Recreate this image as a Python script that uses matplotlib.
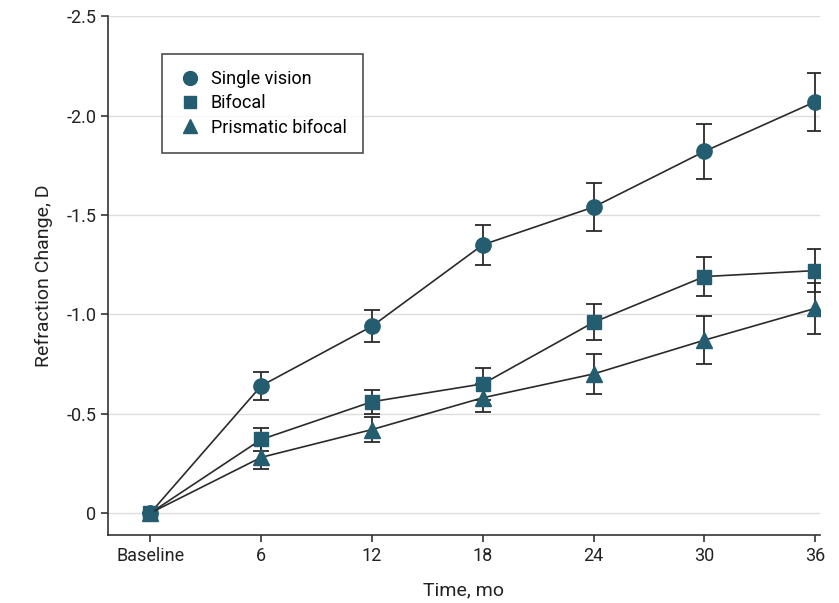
import numpy as np
from matplotlib import pyplot as plt
from matplotlib.lines import Line2D

plt.rcParams["font.family"] = ["Roboto", "DejaVu Sans"]
plt.rcParams["axes.unicode_minus"] = False

times = ["Baseline", "6", "12", "18", "24", "30", "36"]

single = [0, -0.64, -0.94, -1.35, -1.54, -1.82, -2.07]
single_err = [0, 0.07, 0.08, 0.10, 0.12, 0.14, 0.145]

bifocal = [0, -0.37, -0.56, -0.65, -0.96, -1.19, -1.22]
bifocal_err = [0, 0.06, 0.06, 0.08, 0.09, 0.10, 0.11]

prismatic = [0, -0.28, -0.42, -0.58, -0.70, -0.87, -1.03]
prismatic_err = [0, 0.06, 0.065, 0.07, 0.10, 0.12, 0.13]

yticks = [0, -0.5, -1.0, -1.5, -2.0, -2.5]
ytick_labels = ["0", "-0.5", "-1.0", "-1.5", "-2.0", "-2.5"]

teal = "#245d6f"

fig = plt.figure(figsize=(8.39, 6.03), dpi=100)
ax = fig.add_axes([0.129, 0.113, 0.848, 0.86])

x = np.arange(len(times))
series = [
    ("Single vision", single, single_err, "o", 11),
    ("Bifocal", bifocal, bifocal_err, "s", 10),
    ("Prismatic bifocal", prismatic, prismatic_err, "^", 11),
]
legend_handles = []
for label, vals, errs, marker, ms in series:
    ax.errorbar(x, vals, yerr=errs, color="#2a2a2a", lw=1.2, capsize=6,
                capthick=1.3, elinewidth=1.3, marker=marker, ms=ms,
                mfc=teal, mec=teal, zorder=3)
    legend_handles.append(Line2D([], [], ls="none", marker=marker, ms=ms - 1,
                                 mfc=teal, mec=teal, label=label))

ax.set_xlim(-0.38, 6.04)
ax.set_ylim(0.11, -2.5)
ax.set_xticks(x)
ax.set_xticklabels(times)
ax.set_yticks(yticks)
ax.set_yticklabels(ytick_labels)
ax.tick_params(labelsize=13, length=5, width=1.2, color="#333333", labelcolor="#222222")

for tick in yticks:
    ax.axhline(tick, color="#dddddd", lw=1, zorder=0)

for side in ["top", "right"]:
    ax.spines[side].set_visible(False)
for side in ["left", "bottom"]:
    ax.spines[side].set_linewidth(1.2)
    ax.spines[side].set_color("#333333")

ax.set_xlabel("Time, mo", fontsize=14, color="#222222", labelpad=12)
ax.set_ylabel("Refraction Change, D", fontsize=14, color="#222222", labelpad=10)

leg = ax.legend(handles=legend_handles, loc="upper left", bbox_to_anchor=(0.063, 0.945),
                fontsize=13, frameon=True, fancybox=False, edgecolor="#222222",
                handletextpad=0.5, borderpad=0.9, labelspacing=0.35, handlelength=1.3)
leg.get_frame().set_linewidth(1.2)

fig.savefig("out.png", dpi=100)
